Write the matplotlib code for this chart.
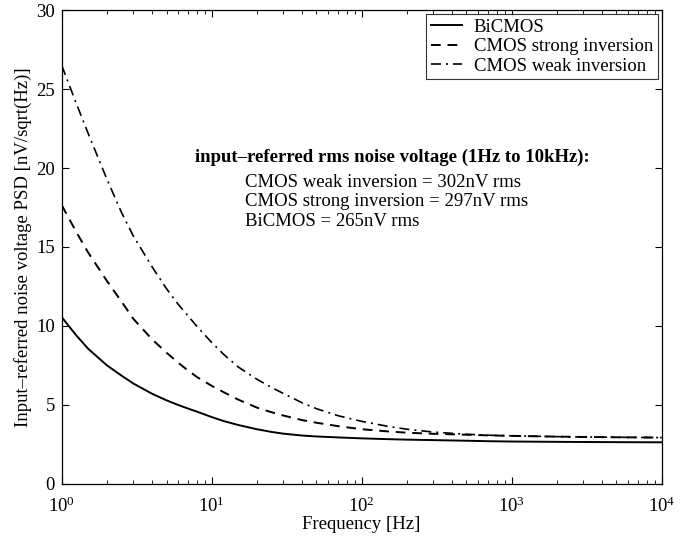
import numpy as np
import matplotlib
matplotlib.use('Agg')
import matplotlib.pyplot as plt
from matplotlib.ticker import LogLocator, NullFormatter

plt.rcParams['font.family'] = ['Liberation Serif', 'DejaVu Serif']
plt.rcParams['mathtext.fontset'] = 'stix'

# frequency points [Hz] and noise PSD [nV/sqrt(Hz)]
freq = [1, 1.25, 1.5, 2, 2.5, 3, 4, 5, 6, 7, 8, 10, 12, 15, 20, 25, 30, 40,
        50, 70, 100, 150, 200, 300, 500, 700, 1000, 2000, 3000, 5000, 10000]
bicmos = [10.55, 9.4, 8.55, 7.5, 6.85, 6.35, 5.7, 5.28, 4.98, 4.75, 4.56, 4.22,
          3.97, 3.72, 3.45, 3.28, 3.17, 3.05, 2.99, 2.93, 2.87, 2.82, 2.79,
          2.76, 2.72, 2.69, 2.67, 2.65, 2.64, 2.63, 2.62]
cmos_strong = [17.65, 15.95, 14.65, 12.85, 11.55, 10.45, 9.15, 8.3, 7.65, 7.15,
               6.75, 6.2, 5.8, 5.33, 4.82, 4.53, 4.32, 4.03, 3.86, 3.64, 3.45,
               3.31, 3.23, 3.16, 3.1, 3.06, 3.03, 2.98, 2.96, 2.94, 2.92]
cmos_weak = [26.5, 24.1, 22.2, 19.3, 17.2, 15.7, 13.75, 12.35, 11.35, 10.6, 9.95,
             8.95, 8.2, 7.4, 6.62, 6.1, 5.72, 5.13, 4.75, 4.3, 3.95, 3.63,
             3.45, 3.27, 3.13, 3.07, 3.03, 2.98, 2.96, 2.94, 2.92]

labels = ['BiCMOS', 'CMOS strong inversion', 'CMOS weak inversion']
summary = ['CMOS weak inversion = 302nV rms',
           'CMOS strong inversion = 297nV rms',
           'BiCMOS = 265nV rms']

fig = plt.figure(figsize=(6.82, 5.38), dpi=100)
ax = fig.add_axes([0.0905, 0.101, 0.8795, 0.880])

ax.plot(freq, bicmos, 'k-', lw=1.4, label=labels[0])
ax.plot(freq, cmos_strong, 'k', lw=1.4, ls=(0, (5, 3.5)), label=labels[1])
ax.plot(freq, cmos_weak, 'k', lw=1.2, ls=(0, (6, 3, 1.2, 3)), label=labels[2])

ax.set_xscale('log')
ax.set_xlim(1, 1e4)
ax.set_ylim(0, 30)
ax.set_yticks(np.arange(0, 31, 5))
ax.xaxis.set_minor_locator(LogLocator(base=10, subs=np.arange(2, 10)))
ax.xaxis.set_minor_formatter(NullFormatter())
ax.tick_params(which='both', direction='in', top=True, right=True,
               labelsize=13.5, colors='black')
ax.tick_params(which='major', length=5, width=0.8)
ax.tick_params(which='minor', length=3, width=0.6)
ax.tick_params(axis='x', pad=9)
ax.tick_params(axis='y', pad=5)
for s in ax.spines.values():
    s.set_linewidth(0.9)

ax.set_xlabel('Frequency [Hz]', fontsize=13.5, labelpad=0)
ax.set_ylabel('Input\u2013referred noise voltage PSD [nV/sqrt(Hz)]',
              fontsize=13.5, labelpad=3)

leg = ax.legend(loc='upper right', fontsize=13.5, frameon=True, fancybox=False,
                edgecolor='black', borderaxespad=0.2, handlelength=1.7,
                labelspacing=0.12, borderpad=0.25, handletextpad=0.6)
leg.get_frame().set_linewidth(0.8)

ax.text(0.222, 0.69, 'input\u2013referred rms noise voltage (1Hz to 10kHz):',
        transform=ax.transAxes, fontsize=13.5, fontweight='bold', va='center')
for i, s in enumerate(summary):
    ax.text(0.306, 0.637 - i * 0.0412, s, transform=ax.transAxes,
            fontsize=13.5, va='center')

fig.savefig('out.png', dpi=100)
